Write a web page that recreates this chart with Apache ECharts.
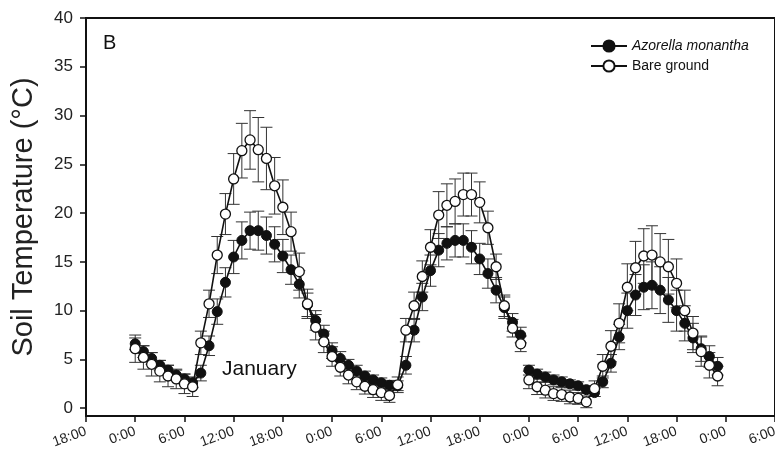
<!DOCTYPE html>
<html>
<head>
<meta charset="utf-8">
<style>
  html, body { margin: 0; padding: 0; background: #fff; }
  #container { width: 775px; height: 454px; }
</style>
<script src="https://cdn.jsdelivr.net/npm/echarts/dist/echarts.min.js"></script>
</head>
<body>
<div id="container"></div>
<script>
// hours since 0:00 of the first day; the record breaks after hour 47
const hours = [
  0, 1, 2, 3, 4, 5, 6, 7, 8, 9, 10, 11, 12, 13, 14, 15, 16, 17, 18, 19, 20, 21, 22, 23,
  24, 25, 26, 27, 28, 29, 30, 31, 32, 33, 34, 35, 36, 37, 38, 39, 40, 41, 42, 43, 44, 45, 46, 47,
  48, 49, 50, 51, 52, 53, 54, 55, 56, 57, 58, 59, 60, 61, 62, 63, 64, 65, 66, 67, 68, 69, 70, 71,
];
const gapAfter = 47;

const azorella = [
  6.6, 5.8, 5.1, 4.4, 3.9, 3.4, 3.0, 2.6, 3.6, 6.4, 9.9, 12.9, 15.5, 17.2, 18.2, 18.2,
  17.7, 16.8, 15.6, 14.2, 12.7, 10.6, 9.0, 7.6, 5.9, 5.1, 4.4, 3.8, 3.3, 2.9, 2.6, 2.35,
  2.3, 4.4, 8.0, 11.4, 14.1, 16.2, 16.9, 17.2, 17.2, 16.5, 15.3, 13.8, 12.1, 10.3, 8.8, 7.5,
  3.9, 3.5, 3.2, 2.9, 2.7, 2.5, 2.3, 1.9, 1.6, 2.7, 4.6, 7.3, 10.0, 11.6, 12.4, 12.6,
  12.1, 11.1, 10.0, 8.7, 7.2, 6.1, 5.3, 4.3,
];
const azorellaErr = [
  0.6, 0.6, 0.6, 0.5, 0.5, 0.5, 0.5, 0.5, 0.8, 1.0, 1.3, 1.5, 1.7, 1.9, 1.9, 2.0,
  1.9, 1.8, 1.7, 1.5, 1.4, 1.2, 1.0, 0.9, 0.8, 0.7, 0.6, 0.6, 0.5, 0.5, 0.5, 0.5,
  0.5, 0.9, 1.2, 1.4, 1.6, 1.7, 1.7, 1.7, 1.7, 1.7, 1.6, 1.5, 1.3, 1.1, 0.9, 0.8,
  0.5, 0.5, 0.5, 0.5, 0.5, 0.4, 0.4, 0.4, 0.4, 0.6, 0.9, 1.3, 1.8, 2.1, 2.3, 2.4,
  2.4, 2.3, 2.1, 1.8, 1.5, 1.3, 1.1, 0.9,
];

const bare = [
  6.1, 5.2, 4.5, 3.8, 3.3, 3.0, 2.5, 2.2, 6.7, 10.7, 15.7, 19.9, 23.5, 26.4, 27.5, 26.5,
  25.6, 22.8, 20.6, 18.1, 14.0, 10.7, 8.3, 6.8, 5.3, 4.2, 3.4, 2.7, 2.25, 1.9, 1.6, 1.3,
  2.4, 8.0, 10.5, 13.5, 16.5, 19.8, 20.8, 21.2, 21.9, 21.9, 21.1, 18.5, 14.5, 10.5, 8.2, 6.6,
  2.9, 2.2, 1.85, 1.5, 1.4, 1.15, 1.0, 0.65, 2.0, 4.3, 6.35, 8.7, 12.4, 14.4, 15.6, 15.7,
  15.0, 14.5, 12.8, 10.0, 7.7, 5.8, 4.4, 3.3,
];
const bareErr = [
  1.4, 1.2, 1.2, 1.1, 1.1, 1.0, 1.0, 1.0, 1.2, 1.4, 1.9, 2.1, 2.6, 2.8, 3.0, 3.3,
  3.2, 2.9, 2.8, 2.0, 1.9, 1.5, 1.3, 1.1, 1.0, 0.9, 0.9, 0.8, 0.8, 0.8, 0.8, 0.7,
  0.8, 1.2, 1.4, 1.6, 1.8, 2.4, 2.2, 2.3, 2.2, 2.2, 2.1, 1.7, 1.3, 1.1, 0.9, 0.8,
  0.9, 0.8, 0.8, 0.7, 0.7, 0.7, 0.6, 0.6, 0.8, 1.2, 1.6, 2.0, 2.4, 2.7, 2.8, 3.0,
  2.9, 2.8, 2.5, 2.1, 1.7, 1.5, 1.3, 1.0,
];

const yTicks = [0, 5, 10, 15, 20, 25, 30, 35, 40];
const seriesNames = ["Azorella monantha", "Bare ground"];

const FONT = "Liberation Sans, Arial, sans-serif";

function lineData(values) {
  const out = [];
  hours.forEach((h, i) => {
    out.push([h, values[i]]);
    if (h === gapAfter) out.push([h + 0.5, "-"]);
  });
  return out;
}

function errData(values, errs) {
  return hours.map((h, i) => [h, values[i], errs[i]]);
}

function renderErr(params, api) {
  const x = api.value(0);
  const y = api.value(1);
  const e = api.value(2);
  const top = api.coord([x, y + e]);
  const bot = api.coord([x, y - e]);
  const w = 6;
  const style = { stroke: "#333", lineWidth: 1 };
  return {
    type: "group",
    children: [
      { type: "line", shape: { x1: top[0], y1: top[1], x2: bot[0], y2: bot[1] }, style: style },
      { type: "line", shape: { x1: top[0] - w, y1: top[1], x2: top[0] + w, y2: top[1] }, style: style },
      { type: "line", shape: { x1: bot[0] - w, y1: bot[1], x2: bot[0] + w, y2: bot[1] }, style: style },
    ],
  };
}

let dom = document.getElementById("container");
let myChart = echarts.init(dom, null, {
  renderer: "canvas",
});

let option = {
  animation: false,
  backgroundColor: "#fff",
  textStyle: { fontFamily: FONT },
  grid: {
    left: 86,
    right: 0,
    top: 18,
    bottom: 38,
    outerBoundsMode: "none",
    containLabel: false,
    show: true,
    borderColor: "#111",
    borderWidth: 2,
  },
  legend: {
    data: seriesNames,
    orient: "vertical",
    left: 585,
    top: 34,
    itemWidth: 36,
    itemHeight: 14,
    itemGap: 6,
    textStyle: {
      fontFamily: FONT,
      fontSize: 14,
      color: "#111",
      rich: {
        i: { fontFamily: FONT, fontSize: 14, fontStyle: "italic", color: "#111" },
      },
    },
    formatter: (name) => (name === seriesNames[0] ? "{i|" + name + "}" : name),
  },
  graphic: [
    {
      type: "text",
      left: 103,
      top: 33,
      style: { text: "B", font: "20px " + FONT, fill: "#111" },
    },
    {
      type: "text",
      left: 222,
      top: 359,
      style: { text: "January", font: "21px " + FONT, fill: "#111" },
    },
  ],
  xAxis: {
    type: "value",
    min: -6,
    max: 78,
    interval: 6,
    splitLine: { show: false },
    axisLine: { onZero: false, lineStyle: { color: "#111", width: 2 } },
    axisTick: { length: 6, lineStyle: { color: "#111", width: 1.5 } },
    axisLabel: {
      rotate: 20,
      margin: 15,
      fontFamily: FONT,
      fontSize: 14,
      color: "#222",
      formatter: (v) => (((v % 24) + 24) % 24) + ":00",
    },
  },
  yAxis: {
    type: "value",
    min: -0.8,
    max: 40,
    name: "Soil Temperature (\u00B0C)",
    nameLocation: "middle",
    nameGap: 48,
    nameTextStyle: { fontFamily: FONT, fontSize: 29, color: "#222" },
    splitLine: { show: false },
    axisLine: { onZero: false, lineStyle: { color: "#111", width: 2 } },
    axisTick: { length: 6, customValues: yTicks, lineStyle: { color: "#111", width: 1.5 } },
    axisLabel: {
      customValues: yTicks,
      margin: 13,
      fontFamily: FONT,
      fontSize: 17,
      color: "#222",
    },
  },
  series: [
    {
      name: "azorella-err",
      type: "custom",
      renderItem: renderErr,
      data: errData(azorella, azorellaErr),
      z: 1,
      silent: true,
    },
    {
      name: "bare-err",
      type: "custom",
      renderItem: renderErr,
      data: errData(bare, bareErr),
      z: 1,
      silent: true,
    },
    {
      name: seriesNames[0],
      type: "line",
      data: lineData(azorella),
      connectNulls: false,
      symbol: "circle",
      symbolSize: 10,
      lineStyle: { color: "#111", width: 1.6 },
      itemStyle: { color: "#111", borderColor: "#111", borderWidth: 1 },
      z: 2,
    },
    {
      name: seriesNames[1],
      type: "line",
      data: lineData(bare),
      connectNulls: false,
      symbol: "circle",
      symbolSize: 10,
      lineStyle: { color: "#111", width: 1.6 },
      itemStyle: { color: "#fff", borderColor: "#111", borderWidth: 1.3 },
      z: 3,
    },
  ],
};

if (option && typeof option === "object") {
  myChart.setOption(option);
}

window.addEventListener("resize", myChart.resize);
</script>
</body>
</html>
